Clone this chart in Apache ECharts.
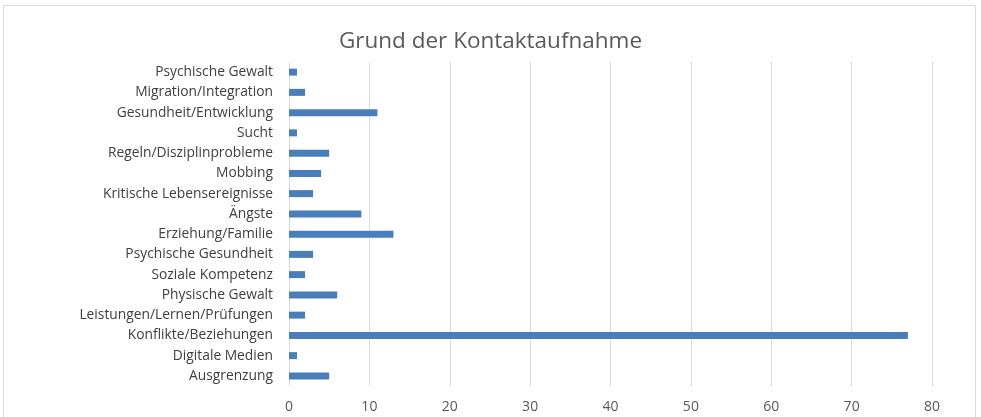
<!DOCTYPE html>
<html>
<head>
<meta charset="utf-8">
<script src="https://cdn.jsdelivr.net/npm/echarts@6/dist/echarts.min.js"></script>
<style>
html, body { margin: 0; padding: 0; background: #fff; }
#chart { width: 981px; height: 417px; }
</style>
</head>
<body>
<div id="chart"></div>
<script>
// Kategorien von unten nach oben (wie in der Vorlage)
var categories = [
    'Ausgrenzung',
    'Digitale Medien',
    'Konflikte/Beziehungen',
    'Leistungen/Lernen/Prüfungen',
    'Physische Gewalt',
    'Soziale Kompetenz',
    'Psychische Gesundheit',
    'Erziehung/Familie',
    'Ängste',
    'Kritische Lebensereignisse',
    'Mobbing',
    'Regeln/Disziplinprobleme',
    'Sucht',
    'Gesundheit/Entwicklung',
    'Migration/Integration',
    'Psychische Gewalt'
];
var values = [5, 1, 77, 2, 6, 2, 3, 13, 9, 3, 4, 5, 1, 11, 2, 1];
var xTicks = [0, 10, 20, 30, 40, 50, 60, 70, 80];

var chart = echarts.init(document.getElementById('chart'));
var font = '"Open Sans", "Noto Sans", sans-serif';

var option = {
    backgroundColor: '#fff',
    animation: false,
    title: {
        text: 'Grund der Kontaktaufnahme',
        left: 'center',
        top: 25,
        textStyle: {
            color: '#595959',
            fontSize: 22.5,
            fontWeight: 'normal',
            fontFamily: font
        }
    },
    graphic: [{
        type: 'rect',
        shape: { x: 3.5, y: 5.5, width: 972, height: 430 },
        style: { fill: 'none', stroke: '#d9d9d9', lineWidth: 1 },
        silent: true
    }],
    grid: {
        left: 289,
        right: 49,
        top: 62,
        bottom: 31
    },
    xAxis: {
        type: 'value',
        min: xTicks[0],
        max: xTicks[xTicks.length - 1],
        interval: 10,
        axisLine: { show: false },
        axisTick: { show: false },
        axisLabel: {
            color: '#595959',
            fontSize: 14,
            fontFamily: font,
            margin: 14
        },
        splitLine: { lineStyle: { color: '#d9d9d9', width: 1 } }
    },
    yAxis: {
        type: 'category',
        data: categories,
        axisLine: { show: false },
        axisTick: { show: false },
        axisLabel: {
            color: '#404040',
            fontSize: 13.8,
            fontFamily: font,
            margin: 16,
            interval: 0
        }
    },
    series: [{
        type: 'bar',
        data: values,
        barWidth: 7,
        itemStyle: { color: '#4a7ebb' }
    }]
};
chart.setOption(option);
</script>
</body>
</html>
